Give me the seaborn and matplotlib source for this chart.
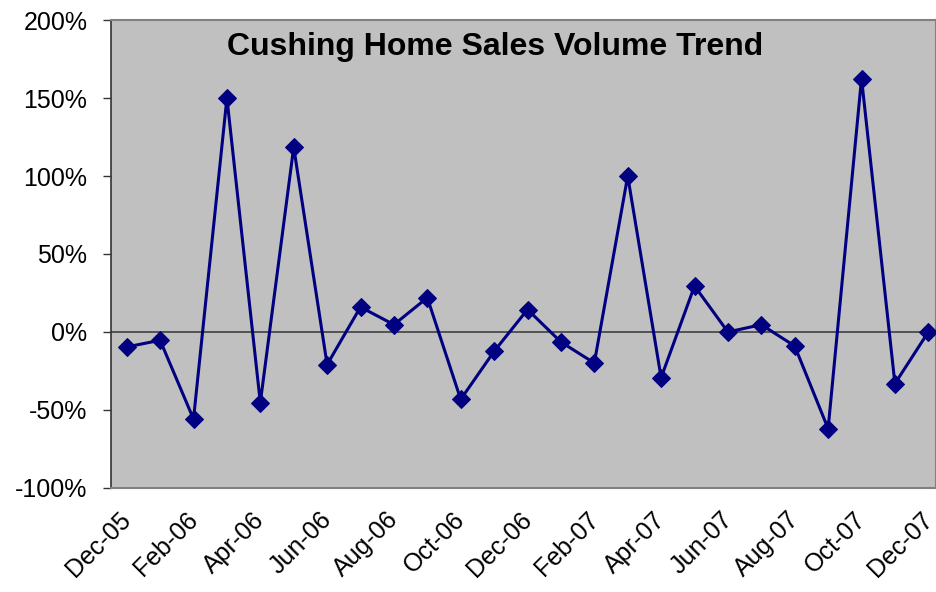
import pandas as pd
import matplotlib
matplotlib.use('Agg')
import matplotlib.pyplot as plt
import matplotlib.transforms as mtransforms
import seaborn as sns
from matplotlib.ticker import PercentFormatter

# monthly change in sales volume, Dec-05 .. Dec-07
months = ['Dec-05', 'Jan-06', 'Feb-06', 'Mar-06', 'Apr-06', 'May-06', 'Jun-06',
          'Jul-06', 'Aug-06', 'Sep-06', 'Oct-06', 'Nov-06', 'Dec-06', 'Jan-07',
          'Feb-07', 'Mar-07', 'Apr-07', 'May-07', 'Jun-07', 'Jul-07', 'Aug-07',
          'Sep-07', 'Oct-07', 'Nov-07', 'Dec-07']
change = [-9.6, -5.3, -55.8, 150, -45.3, 118.5, -20.9, 16, 4.7, 22, -43.2, -12.4,
          14.4, -6.4, -19.9, 100, -29.3, 29.5, 0, 4.7, -9, -62, 162.5, -33.1, 0]
y_ticks = [-100, -50, 0, 50, 100, 150, 200]

df = pd.DataFrame({'pos': range(len(months)), 'month': months, 'change': change})

sns.set_style('white')
plt.rcParams['font.family'] = ['Liberation Sans', 'DejaVu Sans']
plt.rcParams['text.color'] = 'black'
plt.rcParams['xtick.color'] = 'black'
plt.rcParams['ytick.color'] = 'black'
plt.rcParams['axes.unicode_minus'] = False

fig = plt.figure(figsize=(9.36, 5.92), dpi=100)
ax = fig.add_axes([0.1186, 0.1757, 0.8814, 0.7905])
ax.set_facecolor('#C0C0C0')

ax.axhline(0, color='#404040', lw=1.2, zorder=1)
sns.lineplot(data=df, x='pos', y='change', ax=ax, color='#000080', lw=2.2,
             marker='D', markersize=9, markeredgecolor='#000080', zorder=3)

ax.set_ylim(-100, 200)
ax.set_xlim(-0.47, len(months) - 0.77)
ax.set_yticks(y_ticks)
ax.yaxis.set_major_formatter(PercentFormatter(decimals=0))
ax.set_xticks(df['pos'][::2])
ax.set_xticklabels(df['month'][::2], rotation=45, ha='right', rotation_mode='anchor')
ax.tick_params(axis='y', labelsize=18, length=6, width=1, color='#333333', left=True, pad=11)
ax.tick_params(axis='x', labelsize=18, length=0, pad=14)
ax.set_xlabel('')
ax.set_ylabel('')

# nudge the slanted month labels so their ends sit under the points
shift = mtransforms.ScaledTranslation(-0.08, 0, fig.dpi_scale_trans)
for lab in ax.get_xticklabels():
    lab.set_transform(lab.get_transform() + shift)

for side in ['top', 'right', 'bottom']:
    ax.spines[side].set_color('#808080')
    ax.spines[side].set_linewidth(1.5)
ax.spines['left'].set_color('#333333')
ax.spines['left'].set_linewidth(1.2)

ax.text(0.466, 0.942, 'Cushing Home Sales Volume Trend', transform=ax.transAxes,
        ha='center', va='center', fontsize=23, fontweight='bold')

fig.savefig('out.png', dpi=100)
